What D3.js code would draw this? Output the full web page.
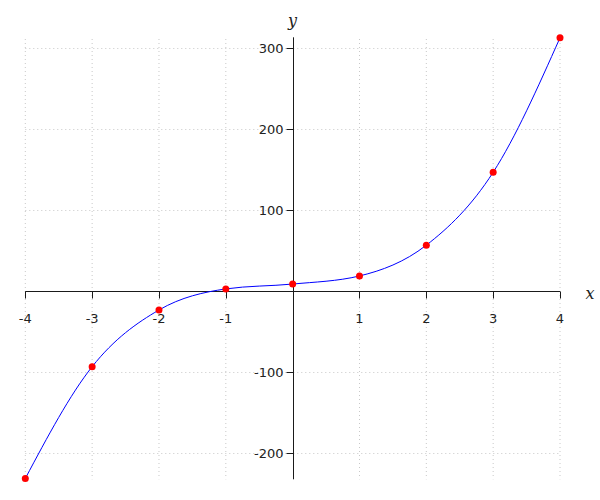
<!DOCTYPE html>
<html>
<head>
<meta charset="utf-8">
<script src="https://cdn.jsdelivr.net/npm/d3@7"></script>
<style>
  html, body { margin: 0; padding: 0; background: #fff; }
  svg { display: block; }
</style>
</head>
<body>
<svg id="chart" width="600" height="500"></svg>
<script>
// Data
const xValues = [-4, -3, -2, -1, 0, 1, 2, 3, 4];
const yValues = [-231, -93, -23, 3, 9, 19, 57, 147, 313];
const xTicks = [-4, -3, -2, -1, 1, 2, 3, 4];
const yTicks = [-200, -100, 100, 200, 300];

const svg = d3.select("#chart");
const x = d3.scaleLinear().domain([-4, 4]).range([25.3, 560]);
const y = d3.scaleLinear().domain([-232, 313.6]).range([479.3, 37.3]);

const gridColor = "#c8c8c8";
const axisColor = "#1a1a1a";
const textColor = "#222";

// Grid lines
const grid = svg.append("g");
grid.selectAll("line.vg").data(xTicks).enter().append("line")
  .attr("x1", d => x(d)).attr("x2", d => x(d))
  .attr("y1", 39).attr("y2", 479.3)
  .attr("stroke", gridColor).attr("stroke-width", 1)
  .attr("stroke-dasharray", "1,3");
grid.selectAll("line.hg").data(yTicks).enter().append("line")
  .attr("x1", x(-4)).attr("x2", x(4))
  .attr("y1", d => Math.round(y(d)) + 0.5).attr("y2", d => Math.round(y(d)) + 0.5)
  .attr("stroke", gridColor).attr("stroke-width", 1)
  .attr("stroke-dasharray", "1,3");

// Axes
const ax = svg.append("g");
const y0 = Math.round(y(0)) + 0.5;
const x0 = Math.round(x(0)) + 0.5;
ax.append("line").attr("x1", x(-4)).attr("x2", x(4)).attr("y1", y0).attr("y2", y0)
  .attr("stroke", axisColor).attr("stroke-width", 1);
ax.append("line").attr("x1", x0).attr("x2", x0).attr("y1", 37.3).attr("y2", 479.3)
  .attr("stroke", axisColor).attr("stroke-width", 1);

// X ticks
ax.selectAll("line.xt").data(xTicks).enter().append("line")
  .attr("x1", d => Math.round(x(d)) + 0.5).attr("x2", d => Math.round(x(d)) + 0.5)
  .attr("y1", y0).attr("y2", y0 + 7)
  .attr("stroke", axisColor).attr("stroke-width", 1);
ax.selectAll("text.xt").data(xTicks).enter().append("text")
  .attr("x", d => x(d)).attr("y", y0 + 31)
  .attr("text-anchor", "middle")
  .attr("font-family", "DejaVu Sans, sans-serif").attr("font-size", 13)
  .attr("fill", textColor)
  .text(d => d);

// Y ticks
ax.selectAll("line.yt").data(yTicks).enter().append("line")
  .attr("x1", x0 - 7).attr("x2", x0)
  .attr("y1", d => Math.round(y(d)) + 0.5).attr("y2", d => Math.round(y(d)) + 0.5)
  .attr("stroke", axisColor).attr("stroke-width", 1);
ax.selectAll("text.yt").data(yTicks).enter().append("text")
  .attr("x", x0 - 10).attr("y", d => y(d) + 5)
  .attr("text-anchor", "end")
  .attr("font-family", "DejaVu Sans, sans-serif").attr("font-size", 13)
  .attr("fill", textColor)
  .text(d => d);

// Axis labels
svg.append("text").attr("x", 590).attr("y", 299)
  .attr("text-anchor", "middle")
  .attr("font-family", "DejaVu Serif, serif").attr("font-style", "italic").attr("font-size", 16)
  .attr("fill", textColor).text("x");
svg.append("text").attr("x", 292.5).attr("y", 26)
  .attr("text-anchor", "middle")
  .attr("font-family", "DejaVu Serif, serif").attr("font-style", "italic").attr("font-size", 16)
  .attr("fill", textColor).text("y");

// Curve
const pts = xValues.map((v, i) => [v, yValues[i]]);
const line = d3.line().x(d => x(d[0])).y(d => y(d[1])).curve(d3.curveMonotoneX);
svg.append("path").datum(pts).attr("d", line)
  .attr("fill", "none").attr("stroke", "#0000ff").attr("stroke-width", 1);

// Points
svg.selectAll("circle.pt").data(pts).enter().append("circle")
  .attr("cx", d => x(d[0])).attr("cy", d => y(d[1])).attr("r", 3.5)
  .attr("fill", "#ff0000");
</script>
</body>
</html>
